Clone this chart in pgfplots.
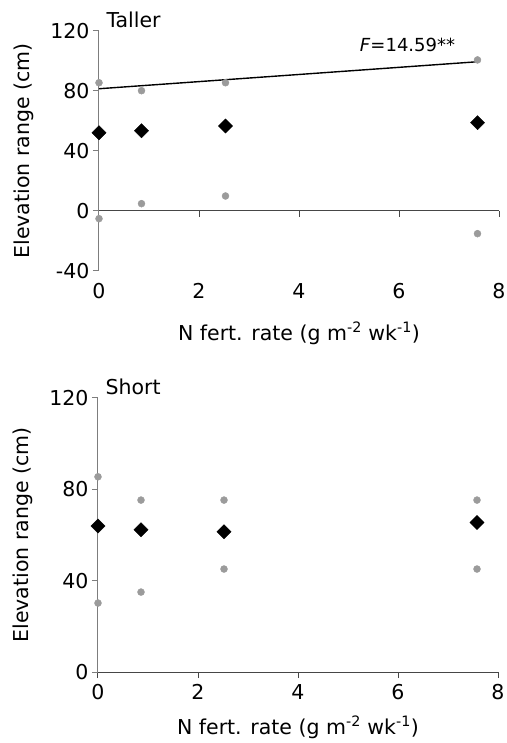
\documentclass[border=0pt]{standalone}
\usepackage{fontspec}
\setmainfont{DejaVu Sans}
\usepackage{pgfplots}
\pgfplotsset{compat=1.18}
\definecolor{dotgray}{RGB}{155,155,155}
\definecolor{axgray}{RGB}{125,125,125}
\definecolor{xaxgray}{RGB}{70,70,70}

\pgfplotsset{
  elev/.style={
    scale only axis, width=400pt,
    xmin=0, xmax=8, xtick={0,2,4,6,8},
    axis lines=left, axis line style={axgray, line width=1pt, -},
    tick style={axgray, line width=1pt}, tick align=outside, major tick length=6pt,
    ticklabel style={font=\fontsize{20.5}{24}\selectfont},
    xticklabel style={yshift=-3pt},
    label style={font=\fontsize{20.5}{24}\selectfont},
    ylabel style={yshift=10pt},
    /pgf/number format/assume math mode=true,
    ylabel={Elevation range (cm)},
    xlabel={N fert. rate (g m\textsuperscript{-2} wk\textsuperscript{-1})},
    clip=false,
  },
  hi/.style={only marks, mark=*, mark size=3.5pt, color=dotgray},
  mean/.style={only marks, mark=square*, mark size=5pt, color=black, mark options={rotate=45}},
}

\begin{document}
\begin{tikzpicture}
\path[use as bounding box] (-98pt,-71pt) rectangle (408pt,672pt);

% Taller
\begin{axis}[elev, at={(1pt,401pt)}, height=240pt,
    ymin=-40, ymax=120, ytick={-40,0,40,80,120},
    xlabel style={yshift=-16pt},
    x axis line style={draw=none}, xtick style={draw=none}]
\addplot[hi] coordinates {(0,85.5) (0.85,80.2) (2.53,85.5) (7.57,100.7)};
\addplot[hi] coordinates {(0,-5.1) (0.85,4.9) (2.53,10) (7.57,-15.1)};
\addplot[mean] coordinates {(0,52.2) (0.85,53.5) (2.53,56.7) (7.57,58.9)};
\addplot[black, line width=1.4pt] coordinates {(0,81.5) (7.57,99.5)};
\draw[xaxgray, line width=1pt] (axis cs:0,0) -- (axis cs:8,0);
\pgfplotsinvokeforeach{2,4,6,8}{\draw[xaxgray, line width=1pt] (axis cs:#1,0) -- ([yshift=-6pt]axis cs:#1,0);}
\node[anchor=base west, font=\fontsize{20.5}{24}\selectfont] at ([xshift=4pt,yshift=3pt]axis cs:0,120) {Taller};
\node[anchor=center, font=\fontsize{18}{21}\selectfont] at (axis cs:6.17,111) {\textit{F}=14.59**};
\end{axis}

% Short
\begin{axis}[elev, at={(0pt,0pt)}, height=274pt,
    ymin=0, ymax=120, ytick={0,40,80,120},
    xlabel style={yshift=-9pt},
    x axis line style={xaxgray}, xtick style={xaxgray}]
\addplot[hi] coordinates {(0,85.5) (0.86,75.3) (2.52,75.3) (7.58,75.3)};
\addplot[hi] coordinates {(0,30.2) (0.86,35) (2.52,45.1) (7.58,45.1)};
\addplot[mean] coordinates {(0,63.9) (0.86,62.3) (2.52,61.4) (7.58,65.5)};
\node[anchor=base west, font=\fontsize{20.5}{24}\selectfont] at ([xshift=4pt,yshift=3pt]axis cs:0,120) {Short};
\end{axis}
\end{tikzpicture}
\end{document}
